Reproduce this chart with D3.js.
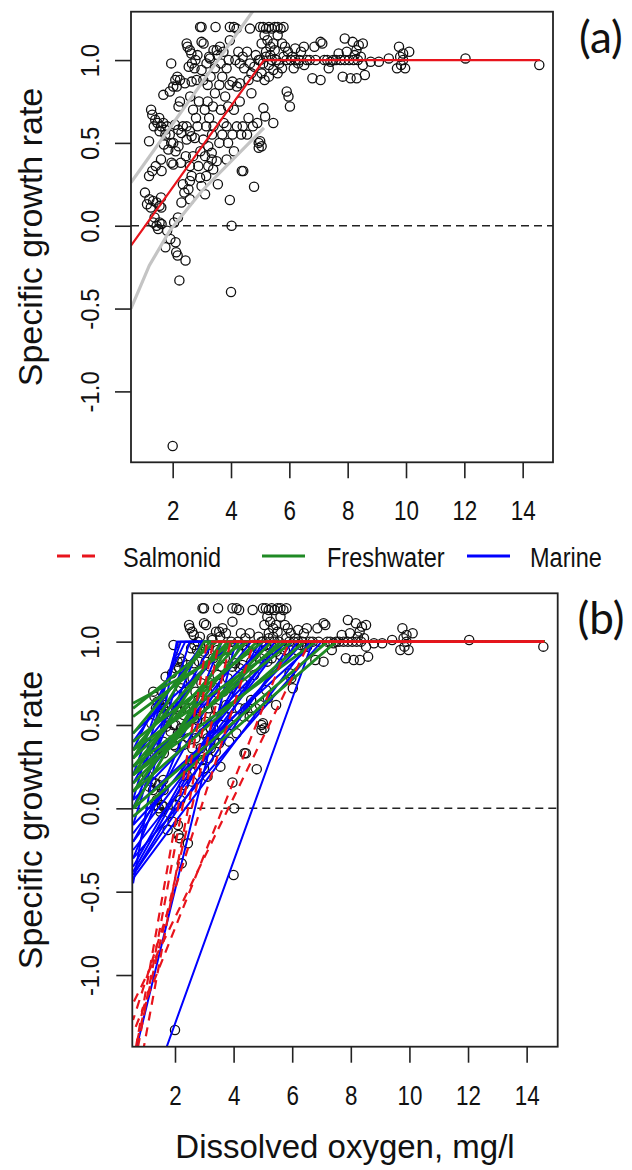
<!DOCTYPE html>
<html>
<head>
<meta charset="utf-8">
<script src="https://cdn.jsdelivr.net/npm/d3@7"></script>
<style>
  body { margin: 0; background: #fff; }
  svg text { font-family: "Liberation Sans", Arial, sans-serif; fill: #111; }
</style>
</head>
<body>
<div class="vis"></div>
<script>
// scatter: dissolved oxygen (mg/l), specific growth rate
const obsX = [1.12,1.2,1.33,1.25,1.45,1.55,1.19,1.26,1.3,1.4,1.35,1.48,1.19,1.3,1.42,1.33,1.45,1.5,1.38,1.05,
  1.54,1.6,1.68,1.75,1.81,1.68,1.6,1.7,1.85,1.62,1.61,1.55,1.62,1.75,1.81,1.92,1.95,1.9,1.96,1.75,1.9,1.95,1.55,1.6,
  2.02,2.09,2.16,2.08,2.19,2.2,2.25,2.25,2.14,2.02,2.02,2.1,2.2,2.3,2.35,2.42,2.48,2.48,2.48,2.1,2.17,2.44,2.23,2.12,2.0,2.3,2.4,2.35,2.45,2.28,2.05,2.18,
  2.51,2.59,2.64,2.78,2.85,2.94,2.99,2.99,2.65,2.82,2.99,2.59,2.65,2.76,2.59,2.65,2.94,2.99,2.59,2.54,2.59,2.7,2.8,2.9,2.6,2.75,2.85,2.95,2.7,2.88,2.55,2.66,
  3.06,3.05,3.22,3.34,3.11,3.34,3.22,3.39,3.11,3.16,3.28,3.4,3.47,3.3,3.2,3.45,3.1,3.25,3.4,3.15,3.35,3.45,3.05,3.2,3.38,3.25,3.15,
  3.51,3.62,3.74,3.54,3.51,3.6,3.7,3.75,3.85,3.65,3.8,3.9,3.96,3.96,3.85,3.7,3.6,3.95,3.85,3.9,3.96,3.55,3.65,3.92,
  4.02,4.0,4.1,4.19,4.05,4.2,4.3,4.1,4.3,4.2,4.35,4.42,4.1,4.4,4.15,4.3,4.45,4.25,4.4,4.05,4.37,
  4.65,4.79,4.6,4.7,4.8,4.9,4.65,4.55,4.85,4.95,4.6,4.75,4.9,4.7,4.95,4.95,4.55,
  5.0,5.1,5.2,5.3,5.4,5.15,5.05,5.25,5.35,5.45,5.0,5.1,5.2,5.3,5.4,5.05,5.15,5.3,5.45,5.11,5.17,5.0,5.05,5.2,5.35,5.5,
  5.5,5.6,5.7,5.8,5.6,5.75,5.55,5.65,5.8,5.9,5.6,5.75,5.45,5.91,5.97,6.02,5.85,5.95,
  6.05,6.1,6.2,6.3,6.2,6.4,6.51,6.5,6.6,6.7,6.79,6.86,6.9,6.35,6.15,
  7.07,7.13,7.07,7.2,7.3,7.41,7.5,7.6,7.69,7.83,7.9,7.97,7.75,7.9,7.35,
  8.05,8.1,8.17,8.24,8.31,8.38,8.52,8.52,8.59,8.2,8.35,8.45,8.79,8.3,
  9.07,9.41,9.76,9.9,9.83,9.97,9.69,10.11,9.9,9.8,12.04,14.57]
const obsY = [0.13,0.16,0.15,0.11,0.14,0.12,0.51,0.70,0.67,0.64,0.6,0.62,0.30,0.33,0.36,0.02,0.0,-0.02,0.05,0.2,
  0.65,0.6,0.62,0.58,0.6,0.79,0.4,0.49,0.46,0.33,0.11,0.02,0.01,-0.13,-0.03,-0.08,0.98,0.81,0.38,0.55,0.55,0.5,0.57,0.17,
  0.84,0.88,0.9,0.61,0.58,0.72,0.75,0.88,0.84,0.37,0.5,0.45,0.48,0.56,0.6,0.86,0.6,0.52,1.1,-0.1,-0.18,-0.21,-0.33,-0.16,-1.33,0.14,0.2,0.25,0.42,0.38,0.02,0.05,
  1.08,1.06,1.04,1.0,1.03,1.2,1.2,1.11,0.87,0.88,0.94,0.57,0.54,0.53,0.36,0.3,0.29,0.24,0.27,0.22,0.16,0.7,0.65,0.75,0.78,0.95,0.6,0.45,0.42,0.36,0.96,0.98,
  1.1,0.52,0.48,0.44,0.42,0.40,0.36,0.34,0.19,0.98,1.01,1.06,1.2,0.9,0.85,0.8,0.7,0.65,0.6,0.6,0.55,0.95,0.88,0.75,0.72,1.02,0.3,
  1.06,1.08,1.05,1.03,0.39,0.5,0.55,0.62,0.6,0.7,0.78,0.72,1.12,1.2,0.95,0.9,0.85,0.85,0.4,0.5,0.155,0.25,0.98,1.0,
  0.0,-0.4,1.2,1.19,0.87,0.84,0.86,0.7,0.75,0.6,0.55,0.33,0.45,0.6,1.0,0.98,0.95,1.05,1.02,0.55,0.33,
  1.19,0.235,0.88,0.92,0.96,0.9,0.98,1.05,1.03,1.0,0.65,0.6,0.62,0.8,0.5,0.47,0.55,
  1.2,1.2,1.19,1.2,1.19,1.15,1.1,1.12,1.08,1.1,1.0,0.98,1.02,0.97,1.0,0.92,0.88,0.9,0.94,0.71,0.66,0.51,0.48,1.05,1.03,1.06,
  1.2,1.2,1.19,1.2,1.15,1.1,1.0,0.98,1.02,1.0,0.92,0.95,0.62,0.81,0.78,0.72,1.08,1.05,
  1.0,1.02,1.0,0.98,1.07,1.05,0.97,1.08,1.0,1.0,0.89,1.08,1.0,1.0,0.95,
  1.11,1.1,0.88,1.0,1.0,0.99,1.0,1.0,1.04,0.9,1.13,1.05,1.0,1.0,0.95,
  1.0,0.89,1.11,1.03,0.89,1.09,1.1,0.97,0.91,1.0,1.0,1.02,0.99,1.06,
  0.99,1.01,1.08,1.04,0.97,0.95,0.95,1.05,1.0,1.02,1.01,0.97]

// (a) overall broken-stick fit and its band
const fitX = [0.57, 5.13, 14.6]
const fitY = [-0.12, 1.0, 1.0]
const bandUpX = [0.57, 5.13]
const bandUpY = [0.26, 1.39]
const bandLoX = [0.57, 1.2, 1.9, 3.0, 5.13]
const bandLoY = [-0.5, -0.24, -0.03, 0.21, 0.59]

// (b) per-study fits: y at left edge, and DO where growth reaches 1
const lineStartX = 0.57
const lineEndX = 14.6
const marineLeft = [-0.45,0.05,0.2,0.35,-0.1,0.0,0.15,-0.3,0.45,-1.52,-0.2,0.1,-0.35,0.2,-0.4,-0.15,0.05,-0.4,-0.25,-0.1,-0.42,0.0,-0.3,-1.99,0.4,0.3,-0.38,-0.2]
const marineBreak = [2.06,2.1,2.2,2.35,2.5,2.9,3.3,3.6,4.0,4.07,4.3,4.6,4.9,5.2,5.4,5.6,5.8,6.0,6.2,6.4,6.6,6.8,7.0,6.7,3.0,3.8,5.0,5.7]
const freshLeft = [0.3,0.45,0.6,0.2,0.35,0.55,0.25,0.1,0.63,0.3,0.4,0.15,0.2,0.25,0.1,0.2,0.0,-0.05,0.35,0.0]
const freshBreak = [3.0,3.2,3.4,3.6,3.8,4.0,4.2,4.4,4.5,4.8,5.0,5.3,5.6,6.0,6.4,6.8,7.2,7.5,5.8,3.9]
const salmonLeft = [-1.53,-1.59,-1.78,-1.5,-1.27,-1.35,-1.17]
const salmonBreak = [3.1,3.3,3.5,3.9,4.7,5.9,6.6]

const xTicks = [2, 4, 6, 8, 10, 12, 14]
const yTicks = [-1.0, -0.5, 0.0, 0.5, 1.0]
const legendNames = ['Salmonid', 'Freshwater', 'Marine']
const legendColors = ['#e8141c', '#1f8a24', '#0000ff']

const w = 632
const h = 1170

const svg = d3.select('.vis')
    .append('svg')
    .attr('width', w)
    .attr('height', h)

const points = obsX.map((x, i) => [x, obsY[i]])

function drawPanel(id, box, xDom, yDom, tag) {
    const xScale = d3.scaleLinear().domain(xDom).range([box.left, box.right])
    const yScale = d3.scaleLinear().domain(yDom).range([box.bottom, box.top])
    const g = svg.append('g').attr('class', 'panel-' + id)

    // clip region = plot box
    svg.append('clipPath').attr('id', 'clip-' + id)
        .append('rect')
        .attr('x', box.left).attr('y', box.top)
        .attr('width', box.right - box.left).attr('height', box.bottom - box.top)

    const plot = g.append('g').attr('clip-path', 'url(#clip-' + id + ')')

    // zero line
    plot.append('line')
        .attr('x1', box.left).attr('x2', box.right)
        .attr('y1', yScale(0)).attr('y2', yScale(0))
        .attr('stroke', '#222').attr('stroke-width', 1.5)
        .attr('stroke-dasharray', '8,5')

    plot.selectAll('circle')
        .data(points)
        .enter().append('circle')
        .attr('cx', d => xScale(d[0]))
        .attr('cy', d => yScale(d[1]))
        .attr('r', 4.6)
        .attr('fill', 'none')
        .attr('stroke', '#111')
        .attr('stroke-width', 1.3)

    // axes
    const xAxis = d3.axisBottom(xScale).tickValues(xTicks).tickSize(16)
    const yAxis = d3.axisLeft(yScale).tickValues(yTicks).tickSize(16)
        .tickFormat(d => d3.format('.1f')(d).replace('−', '-'))

    const gx = g.append('g')
        .attr('transform', 'translate(0,' + box.bottom + ')')
        .call(xAxis)
    gx.select('.domain').remove()
    gx.selectAll('line').attr('stroke', '#222').attr('stroke-width', 1.6)
    gx.selectAll('text')
        .attr('font-size', 28)
        .attr('fill', '#111')
        .attr('y', 0)
        .attr('dy', '0.35em')
        .attr('transform', 'translate(0,48) scale(0.8,1)')

    const gy = g.append('g')
        .attr('transform', 'translate(' + box.left + ',0)')
        .call(yAxis)
    gy.select('.domain').remove()
    gy.selectAll('line').attr('stroke', '#222').attr('stroke-width', 1.6)
    gy.selectAll('text')
        .attr('font-size', 26)
        .attr('fill', '#111')
        .attr('x', 0).attr('y', 0).attr('dy', 0)
        .attr('text-anchor', 'middle')
        .attr('dominant-baseline', 'central')
        .attr('transform', 'translate(' + (90 - box.left) + ',0) rotate(-90) scale(0.92,1)')

    g.append('rect')
        .attr('x', box.left).attr('y', box.top)
        .attr('width', box.right - box.left).attr('height', box.bottom - box.top)
        .attr('fill', 'none').attr('stroke', '#222').attr('stroke-width', 1.8)

    svg.append('text')
        .attr('transform', 'translate(30,' + (box.top + box.bottom) / 2 + ') rotate(-90)')
        .attr('text-anchor', 'middle')
        .attr('dominant-baseline', 'central')
        .attr('font-size', 34)
        .text('Specific growth rate')

    svg.append('text')
        .attr('x', 601).attr('y', box.top + 41)
        .attr('text-anchor', 'middle')
        .style('font-family', 'Lato, "Open Sans", sans-serif')
        .attr('font-size', 44)
        .text(tag)

    return { plot, xScale, yScale }
}

// panel (a)
const pa = drawPanel('a', { left: 131, right: 553, top: 11.7, bottom: 462.3 }, [0.571, 15.04], [-1.428, 1.292], '(a)')
const lineA = d3.line().x(d => pa.xScale(d[0])).y(d => pa.yScale(d[1]))
pa.plot.append('path')
    .attr('d', lineA(bandUpX.map((x, i) => [x, bandUpY[i]])))
    .attr('fill', 'none').attr('stroke', '#c4c4c4').attr('stroke-width', 3.2)
pa.plot.append('path')
    .attr('d', lineA(bandLoX.map((x, i) => [x, bandLoY[i]])))
    .attr('fill', 'none').attr('stroke', '#c4c4c4').attr('stroke-width', 3.2)
pa.plot.append('path')
    .attr('d', lineA(fitX.map((x, i) => [x, fitY[i]])))
    .attr('fill', 'none').attr('stroke', legendColors[0]).attr('stroke-width', 2.2)

// panel (b)
const pb = drawPanel('b', { left: 132.3, right: 557.7, top: 593.3, bottom: 1046.7 }, [0.543, 15.06], [-1.43, 1.29], '(b)')
const lineB = d3.line().x(d => pb.xScale(d[0])).y(d => pb.yScale(d[1]))

function stick(left, brk) {
    return [[lineStartX, left], [brk, 1], [lineEndX, 1]]
}

pb.plot.selectAll('.marine')
    .data(marineLeft.map((l, i) => stick(l, marineBreak[i])))
    .enter().append('path')
    .attr('class', 'marine')
    .attr('d', lineB)
    .attr('fill', 'none').attr('stroke', legendColors[2]).attr('stroke-width', 2)

pb.plot.selectAll('.fresh')
    .data(freshLeft.map((l, i) => stick(l, freshBreak[i])))
    .enter().append('path')
    .attr('class', 'fresh')
    .attr('d', lineB)
    .attr('fill', 'none').attr('stroke', legendColors[1]).attr('stroke-width', 2.8)

pb.plot.selectAll('.salmon')
    .data(salmonLeft.map((l, i) => stick(l, salmonBreak[i])))
    .enter().append('path')
    .attr('class', 'salmon')
    .attr('d', lineB)
    .attr('fill', 'none').attr('stroke', legendColors[0]).attr('stroke-width', 2.2)
    .attr('stroke-dasharray', '9,7')
    .attr('stroke-dashoffset', (d, i) => i * 5)

// x title
svg.append('text')
    .attr('x', 345).attr('y', 1158)
    .attr('text-anchor', 'middle')
    .attr('font-size', 33)
    .text('Dissolved oxygen, mg/l')

// legend
const legendLineX = [57, 262, 467]
const legendTextX = [123, 327, 530]
const lg = svg.append('g').attr('class', 'legend')
legendNames.forEach((name, i) => {
    lg.append('line')
        .attr('x1', legendLineX[i]).attr('x2', legendLineX[i] + (i == 0 ? 38 : 43))
        .attr('y1', 556).attr('y2', 556)
        .attr('stroke', legendColors[i]).attr('stroke-width', 3)
        .attr('stroke-dasharray', i == 0 ? '13,12' : null)
    lg.append('text')
        .attr('x', 0).attr('y', 0)
        .attr('font-size', 28)
        .attr('transform', 'translate(' + legendTextX[i] + ',567) scale(0.84,1)')
        .text(name)
})
</script>
</body>
</html>
